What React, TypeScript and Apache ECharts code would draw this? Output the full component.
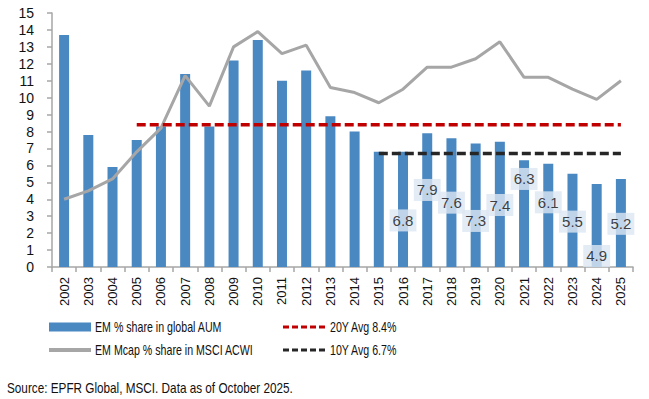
import React, { useEffect, useRef } from "react";
import * as echarts from "echarts";

const years = ["2002","2003","2004","2005","2006","2007","2008","2009","2010","2011","2012","2013","2014","2015","2016","2017","2018","2019","2020","2021","2022","2023","2024","2025"];
const aumShare = [13.7,7.8,5.9,7.5,8.3,11.4,8.3,12.2,13.4,11.0,11.6,8.9,8.0,6.8,6.8,7.9,7.6,7.3,7.4,6.3,6.1,5.5,4.9,5.2];
const mcapShare = [4.0,4.5,5.2,6.8,8.2,11.3,9.5,13.0,13.9,12.6,13.1,10.6,10.3,9.7,10.5,11.8,11.8,12.3,13.3,11.2,11.2,10.5,9.9,11.0];
const avg20 = 8.4;
const avg20Start = "2005";
const avg10 = 6.7;
const avg10Start = "2015";
const labelFrom = "2016";
const seriesNames = ["EM % share in global AUM", "EM Mcap % share in MSCI ACWI", "20Y Avg 8.4%", "10Y Avg 6.7%"];
const sourceText = "Source: EPFR Global, MSCI. Data as of October 2025.";

// layout: vertical anchor (in axis units) for each value box
const labelAnchor: Record<string, number> = {
  "2016": 2.75, "2017": 4.55, "2018": 3.8, "2019": 2.72, "2020": 3.66,
  "2021": 5.2, "2022": 3.82, "2023": 2.68, "2024": 0.65, "2025": 2.55,
};

const FONT = "'Liberation Sans', Arial, sans-serif";
const BAR = "#4a88c2";
const GRAY = "#a6a6a6";
const RED = "#c00000";
const BLACK = "#262626";
const TXT = "#111111";
const SX = 0.76;
const SX_SRC = 0.84;

export default function App() {
  const ref = useRef<HTMLDivElement>(null);
  useEffect(() => {
    if (!ref.current) return;
    const chart = echarts.init(ref.current, undefined, { renderer: "svg" });
    const i20 = years.indexOf(avg20Start);
    const i10 = years.indexOf(avg10Start);
    const iLab = years.indexOf(labelFrom);
    const avg20Data = years.map((_, i) => (i >= i20 ? avg20 : null));
    const avg10Data = years.map((_, i) => (i >= i10 ? avg10 : null));
    const labelData = years
      .map((y, i) => (i >= iLab ? { value: [y, labelAnchor[y]], v: aumShare[i] } : null))
      .filter((d) => d !== null) as any[];

    const legText = (x: number, y: number, text: string) => ({
      type: "text",
      x,
      y,
      scaleX: SX,
      style: { text, fontSize: 14, fontFamily: FONT, fill: TXT, verticalAlign: "middle", align: "left" },
    });

    chart.setOption({
      animation: false,
      textStyle: { fontFamily: FONT },
      grid: { left: 52, right: 16, top: 13, bottom: 132, containLabel: false },
      xAxis: {
        type: "category",
        data: years,
        boundaryGap: true,
        axisLine: { lineStyle: { color: GRAY, width: 1.5 } },
        axisTick: { show: true, length: 5, lineStyle: { color: GRAY, width: 1.5 } },
        axisLabel: { rotate: 90, margin: 10, color: TXT, fontSize: 13, fontFamily: FONT, interval: 0 },
      },
      yAxis: {
        type: "value",
        min: 0,
        max: 15,
        interval: 1,
        axisLine: { show: true, lineStyle: { color: GRAY, width: 1.5 } },
        axisTick: { show: true, length: 5, lineStyle: { color: GRAY, width: 1.5 } },
        splitLine: { show: false },
        axisLabel: { color: TXT, fontSize: 14, margin: 18, fontFamily: FONT },
      },
      series: [
        {
          name: seriesNames[0],
          type: "bar",
          data: aumShare,
          barWidth: 10,
          itemStyle: { color: BAR },
          z: 2,
        },
        {
          name: seriesNames[1],
          type: "line",
          data: mcapShare,
          symbol: "none",
          lineStyle: { color: GRAY, width: 3 },
          itemStyle: { color: GRAY },
          z: 3,
        },
        {
          name: seriesNames[2],
          type: "line",
          data: avg20Data,
          symbol: "none",
          lineStyle: { color: RED, width: 3.5, type: [9, 4] },
          itemStyle: { color: RED },
          z: 4,
        },
        {
          name: seriesNames[3],
          type: "line",
          data: avg10Data,
          symbol: "none",
          lineStyle: { color: BLACK, width: 3.5, type: [9, 4] },
          itemStyle: { color: BLACK },
          z: 4,
        },
        {
          name: "labels",
          type: "scatter",
          data: labelData,
          symbolSize: 1,
          itemStyle: { color: "rgba(0,0,0,0)" },
          z: 10,
          label: {
            show: true,
            position: "inside",
            formatter: (p: any) => p.data.v.toFixed(1),
            fontSize: 15,
            color: TXT,
            fontFamily: FONT,
            backgroundColor: "#dce6f2",
            padding: [4, 3, 3, 3],
          },
        },
      ],
      graphic: [
        { type: "rect", shape: { x: 49, y: 322.5, width: 42, height: 9 }, style: { fill: BAR } },
        legText(95, 327, seriesNames[0]),
        { type: "line", shape: { x1: 49, y1: 350, x2: 91, y2: 350 }, style: { stroke: GRAY, lineWidth: 4 } },
        legText(95, 350, seriesNames[1]),
        { type: "line", shape: { x1: 283, y1: 327, x2: 326, y2: 327 }, style: { stroke: RED, lineWidth: 3, lineDash: [6, 3] } },
        legText(330, 327, seriesNames[2]),
        { type: "line", shape: { x1: 283, y1: 350, x2: 326, y2: 350 }, style: { stroke: BLACK, lineWidth: 3, lineDash: [6, 3] } },
        legText(330, 350, seriesNames[3]),
        {
          type: "text",
          x: 7,
          y: 388,
          scaleX: SX_SRC,
          style: { text: sourceText, fontSize: 14, fontFamily: FONT, fill: TXT, verticalAlign: "middle" },
        },
      ],
    });
    return () => chart.dispose();
  }, []);
  return <div ref={ref} style={{ width: 649, height: 399, position: "absolute", left: 0, top: 0 }} />;
}
